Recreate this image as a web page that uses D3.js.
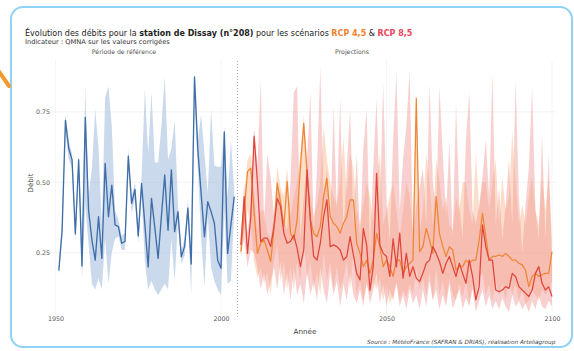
<!DOCTYPE html>
<html><head><meta charset="utf-8">
<script src="https://cdn.jsdelivr.net/npm/d3@7"></script>
<style>body{margin:0;background:#fff;}svg{display:block;font-family:"DejaVu Sans",sans-serif;}</style>
</head><body>
<svg id="c" width="574" height="351"></svg>
<script>
// ---------- DATA ----------
const histStart = 1951;
const histValues = [0.187,0.33,0.72,0.62,0.58,0.317,0.58,0.203,0.73,0.40,
 0.295,0.224,0.378,0.23,0.567,0.378,0.49,0.349,0.343,0.284,
 0.29,0.593,0.425,0.475,0.31,0.496,0.35,0.20,0.443,0.34,
 0.23,0.38,0.526,0.33,0.544,0.325,0.396,0.236,0.272,0.408,
 0.21,0.874,0.615,0.46,0.307,0.431,0.396,0.355,0.224,0.195,
 0.679,0.248,0.35,0.449];
const histLow = [0.17,0.30,0.68,0.58,0.55,0.29,0.54,0.16,0.42,0.28,
 0.14,0.12,0.16,0.12,0.30,0.14,0.25,0.30,0.31,0.26,
 0.26,0.55,0.39,0.44,0.28,0.45,0.22,0.12,0.15,0.12,
 0.10,0.12,0.14,0.12,0.30,0.15,0.36,0.21,0.24,0.37,
 0.10,0.80,0.55,0.30,0.13,0.38,0.20,0.15,0.12,0.10,
 0.40,0.14,0.15,0.40];
const histHigh = [0.20,0.36,0.74,0.65,0.60,0.34,0.60,0.30,0.84,0.45,
 0.55,0.76,0.62,0.35,0.80,0.84,0.70,0.40,0.37,0.31,
 0.32,0.62,0.45,0.50,0.34,0.52,0.83,0.60,0.82,0.57,
 0.57,0.70,0.875,0.58,0.62,0.72,0.42,0.26,0.30,0.44,
 0.25,0.88,0.65,0.74,0.60,0.46,0.76,0.56,0.555,0.555,
 0.70,0.45,0.65,0.47];

const projStart = 2006;
const rcp45 = [0.254,0.390,0.538,0.550,0.396,0.248,0.284,0.296,0.260,0.219,
 0.331,0.497,0.426,0.343,0.503,0.319,0.296,0.367,0.556,0.709,
 0.532,0.367,0.319,0.307,0.343,0.449,0.514,0.378,0.355,0.343,
 0.319,0.355,0.378,0.438,0.438,0.284,0.248,0.201,0.224,0.177,
 0.224,0.319,0.272,0.201,0.224,0.201,0.166,0.224,0.224,0.177,
 0.201,0.213,0.224,0.798,0.254,0.272,0.337,0.296,0.248,0.450,
 0.319,0.272,0.237,0.272,0.260,0.189,0.201,0.201,0.224,0.213,
 0.224,0.224,0.296,0.390,0.307,0.224,0.237,0.237,0.243,0.237,
 0.248,0.237,0.224,0.224,0.213,0.207,0.189,0.130,0.166,0.177,
 0.166,0.172,0.177,0.177,0.254];
const rcp45Low = [0.23,0.32,0.40,0.35,0.22,0.16,0.20,0.14,0.18,0.10,
 0.22,0.28,0.15,0.22,0.12,0.20,0.12,0.22,0.15,0.30,
 0.16,0.22,0.12,0.18,0.10,0.25,0.15,0.22,0.12,0.20,
 0.12,0.16,0.22,0.12,0.25,0.10,0.15,0.08,0.14,0.10,
 0.15,0.12,0.16,0.08,0.14,0.07,0.10,0.15,0.08,0.12,
 0.09,0.14,0.10,0.20,0.12,0.16,0.10,0.18,0.08,0.20,
 0.10,0.15,0.08,0.16,0.10,0.08,0.14,0.09,0.15,0.07,
 0.14,0.08,0.16,0.18,0.10,0.14,0.08,0.15,0.10,0.14,
 0.08,0.15,0.10,0.14,0.08,0.12,0.07,0.08,0.12,0.10,
 0.08,0.12,0.10,0.12,0.15];
const rcp45High = [0.32,0.45,0.58,0.60,0.46,0.33,0.40,0.40,0.32,0.30,
 0.38,0.56,0.48,0.45,0.55,0.38,0.45,0.50,0.60,0.74,
 0.58,0.45,0.38,0.42,0.50,0.70,0.58,0.50,0.45,0.42,
 0.50,0.66,0.45,0.60,0.55,0.40,0.35,0.42,0.50,0.45,
 0.35,0.50,0.60,0.35,0.40,0.45,0.50,0.40,0.30,0.40,
 0.50,0.45,0.32,0.82,0.32,0.40,0.60,0.50,0.35,0.58,
 0.50,0.40,0.45,0.35,0.33,0.45,0.40,0.50,0.50,0.40,
 0.35,0.60,0.40,0.50,0.50,0.40,0.50,0.58,0.35,0.52,
 0.40,0.45,0.68,0.50,0.35,0.42,0.35,0.45,0.52,0.40,
 0.35,0.52,0.40,0.52,0.30];

const rcp85 = [0.278,0.449,0.248,0.378,0.664,0.503,0.290,0.302,0.302,0.272,
 0.343,0.443,0.414,0.319,0.284,0.290,0.313,0.266,0.201,0.260,
 0.544,0.367,0.237,0.224,0.284,0.378,0.438,0.272,0.278,0.272,
 0.260,0.224,0.237,0.307,0.243,0.177,0.154,0.337,0.278,0.118,
 0.201,0.532,0.278,0.248,0.237,0.166,0.300,0.200,0.320,0.160,
 0.248,0.166,0.201,0.160,0.148,0.177,0.213,0.224,0.272,0.248,
 0.219,0.177,0.213,0.237,0.201,0.166,0.213,0.177,0.142,0.224,
 0.166,0.083,0.130,0.349,0.272,0.224,0.224,0.118,0.112,0.118,
 0.130,0.124,0.177,0.166,0.130,0.118,0.107,0.095,0.118,0.177,
 0.201,0.142,0.118,0.130,0.095];
const rcp85Low = [0.25,0.30,0.20,0.26,0.25,0.20,0.12,0.18,0.10,0.15,
 0.20,0.12,0.22,0.10,0.18,0.08,0.20,0.10,0.14,0.07,
 0.18,0.10,0.15,0.08,0.20,0.12,0.07,0.18,0.10,0.15,
 0.06,0.14,0.08,0.18,0.10,0.07,0.12,0.06,0.15,0.07,
 0.12,0.18,0.07,0.14,0.06,0.12,0.08,0.14,0.06,0.10,
 0.05,0.12,0.07,0.10,0.05,0.12,0.06,0.15,0.08,0.12,
 0.05,0.10,0.06,0.14,0.05,0.09,0.12,0.05,0.09,0.06,
 0.12,0.04,0.08,0.12,0.06,0.10,0.05,0.08,0.05,0.09,
 0.06,0.04,0.10,0.06,0.08,0.05,0.07,0.04,0.08,0.05,
 0.10,0.06,0.05,0.08,0.06];
const rcp85High = [0.30,0.50,0.32,0.42,0.70,0.56,0.86,0.35,0.60,0.52,
 0.38,0.48,0.46,0.36,0.33,0.50,0.82,0.84,0.30,0.45,
 0.58,0.82,0.32,0.55,0.91,0.45,0.55,0.33,0.77,0.40,
 0.80,0.32,0.55,0.76,0.35,0.60,0.30,0.62,0.76,0.25,
 0.55,0.80,0.40,0.85,0.42,0.30,0.65,0.89,0.40,0.58,
 0.70,0.90,0.30,0.42,0.48,0.55,0.35,0.85,0.50,0.40,
 0.84,0.60,0.38,0.65,0.30,0.78,0.42,0.30,0.65,0.82,
 0.40,0.35,0.42,0.52,0.65,0.45,0.89,0.35,0.48,0.30,
 0.42,0.58,0.35,0.86,0.45,0.25,0.42,0.55,0.84,0.40,
 0.30,0.67,0.30,0.60,0.20];

const yTicks = [0.25, 0.50, 0.75];
const xTicks = [1950, 2000, 2050, 2100];
const splitYear = 2005;

// ---------- BUILD ----------
const svg = d3.select("#c");
const x = d3.scaleLinear().domain([1950, 2100]).range([55.5, 552]);
const y = d3.scaleLinear().domain([0, 1]).range([323.3, 41.3]);

const hist = histValues.map((v,i)=>({yr:histStart+i, v, lo:histLow[i], hi:histHigh[i]}));
const p45 = rcp45.map((v,i)=>({yr:projStart+i, v, lo:rcp45Low[i], hi:rcp45High[i]}));
const p85 = rcp85.map((v,i)=>({yr:projStart+i, v, lo:rcp85Low[i], hi:rcp85High[i]}));

// card
svg.append("rect").attr("x",11).attr("y",7).attr("width",561).attr("height",340)
  .attr("rx",12).attr("fill","#fff").attr("stroke","#8fd2f4").attr("stroke-width",2);
// orange arrow fragment
svg.append("path").attr("d","M-2,70 L9,86").attr("stroke","#f39a2e").attr("stroke-width",4)
  .attr("stroke-linecap","round").attr("fill","none");

// grid
const g = svg.append("g");
g.selectAll(".gy").data(yTicks).join("line")
  .attr("x1",48).attr("x2",556).attr("y1",d=>y(d)).attr("y2",d=>y(d))
  .attr("stroke","#f0f0f0").attr("stroke-width",0.8);
g.selectAll(".gx").data(xTicks).join("line")
  .attr("x1",d=>x(d)).attr("x2",d=>x(d)).attr("y1",60).attr("y2",318)
  .attr("stroke","#f2f2f2").attr("stroke-width",0.8);

// bands
const area = d3.area().x(d=>x(d.yr)).y0(d=>y(d.lo)).y1(d=>y(d.hi));
const line = d3.line().x(d=>x(d.yr)).y(d=>y(d.v));
g.append("path").datum(hist).attr("d",area).attr("fill","#a9bfdf").attr("opacity",0.6);
g.append("path").datum(p45).attr("d",area).attr("fill","#f7b07c").attr("opacity",0.42);
g.append("path").datum(p85).attr("d",area).attr("fill","#ef8f8f").attr("opacity",0.42);

// lines
g.append("path").datum(hist).attr("d",line).attr("fill","none").attr("stroke","#3f6ea8").attr("stroke-width",1.35).attr("stroke-linejoin","round");
g.append("path").datum(p45).attr("d",line).attr("fill","none").attr("stroke","#ee8636").attr("stroke-width",1.25).attr("stroke-linejoin","round");
g.append("path").datum(p85).attr("d",line).attr("fill","none").attr("stroke","#e0453c").attr("stroke-width",1.25).attr("stroke-linejoin","round");

// split line
g.append("line").attr("x1",x(splitYear)).attr("x2",x(splitYear)).attr("y1",61).attr("y2",318)
  .attr("stroke","#aaa").attr("stroke-width",1).attr("stroke-dasharray","1,2");

// axes (labels only)
const xAxis = d3.axisBottom(x).tickValues(xTicks).tickFormat(d3.format("d")).tickSize(0).tickPadding(0);
const xa = svg.append("g").attr("transform","translate(0,317)").call(xAxis);
xa.select(".domain").remove();
xa.selectAll("text").attr("font-size",6.3).attr("fill","#555").attr("font-family","DejaVu Sans");
const yAxis = d3.axisLeft(y).tickValues(yTicks).tickFormat(d3.format(".2f")).tickSize(0).tickPadding(0);
const ya = svg.append("g").attr("transform","translate(50,0)").call(yAxis);
ya.select(".domain").remove();
ya.selectAll("text").attr("font-size",6.3).attr("fill","#555").attr("font-family","DejaVu Sans");

// texts
function fit(sel, w){ const n=sel.node(); const L=n.getComputedTextLength(); const fs=+sel.attr("font-size"); sel.attr("font-size", fs*w/L); }
const t = svg.append("text").attr("x",25).attr("y",36).attr("font-size",7.5).attr("fill","#222");
t.append("tspan").text("Évolution des débits pour la ");
t.append("tspan").attr("font-weight","bold").text("station de Dissay (n°208)");
t.append("tspan").text(" pour les scénarios ");
t.append("tspan").attr("font-weight","bold").attr("fill","#f07f2e").text("RCP 4,5");
t.append("tspan").text(" & ");
t.append("tspan").attr("font-weight","bold").attr("fill","#e8465a").text("RCP 8,5");
fit(t, 388);
const st = svg.append("text").attr("x",25).attr("y",43.5).attr("font-size",6).attr("fill","#333").text("Indicateur : QMNA sur les valeurs corrigées");
fit(st,145);
svg.append("text").attr("x",124).attr("y",54).attr("text-anchor","middle").attr("font-size",6.2).attr("fill","#555").text("Période de référence");
svg.append("text").attr("x",352).attr("y",54).attr("text-anchor","middle").attr("font-size",6.2).attr("fill","#555").text("Projections");
svg.append("text").attr("transform","translate(33,183) rotate(-90)").attr("text-anchor","middle").attr("font-size",7).attr("fill","#444").text("Débit");
svg.append("text").attr("x",305).attr("y",334).attr("text-anchor","middle").attr("font-size",7.2).attr("fill","#444").text("Année");
const src = svg.append("text").attr("x",367).attr("y",343.5).attr("font-size",5.2).attr("font-style","italic").attr("fill","#444").text("Source : MétéoFrance (SAFRAN & DRIAS), réalisation Arteliagroup");
fit(src,188);
</script>
</body></html>
